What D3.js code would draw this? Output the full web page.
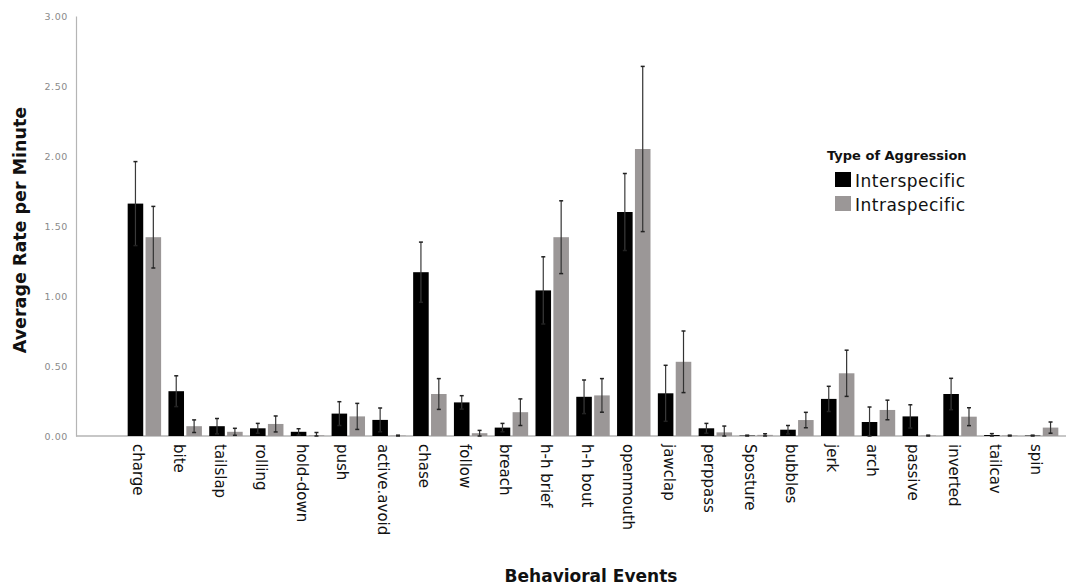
<!DOCTYPE html>
<html>
<head>
<meta charset="utf-8">
<script src="https://cdn.jsdelivr.net/npm/d3@7"></script>
<style>
  body { margin: 0; background: #fff; }
  text { font-family: "DejaVu Sans", sans-serif; }
</style>
</head>
<body>
<div id="my_dataviz"></div>
<script>
// chart values
const categories = ["charge", "bite", "tailslap", "rolling", "hold-down", "push", "active.avoid",
    "chase", "follow", "breach", "h-h brief", "h-h bout", "openmouth", "jawclap", "perppass",
    "Sposture", "bubbles", "jerk", "arch", "passive", "inverted", "tailcav", "spin"];
const groups = ["Interspecific", "Intraspecific"];
const interMean = [1.66, 0.32, 0.07, 0.055, 0.03, 0.16, 0.115, 1.17, 0.24, 0.06, 1.04, 0.28, 1.60,
    0.305, 0.055, 0.003, 0.045, 0.265, 0.10, 0.14, 0.30, 0.007, 0.003];
const interErr = [0.30, 0.11, 0.055, 0.035, 0.022, 0.085, 0.085, 0.215, 0.048, 0.03, 0.24, 0.12, 0.275,
    0.20, 0.035, 0.003, 0.03, 0.09, 0.107, 0.083, 0.112, 0.01, 0.003];
const intraMean = [1.42, 0.07, 0.03, 0.086, 0.005, 0.14, 0.003, 0.30, 0.02, 0.17, 1.42, 0.29, 2.05,
    0.53, 0.026, 0.008, 0.114, 0.448, 0.186, 0.003, 0.138, 0.003, 0.06];
const intraErr = [0.22, 0.045, 0.025, 0.057, 0.02, 0.093, 0.003, 0.11, 0.02, 0.095, 0.26, 0.12, 0.59,
    0.22, 0.045, 0.008, 0.055, 0.165, 0.07, 0.003, 0.064, 0.003, 0.04];
const yTicks = [0, 0.5, 1, 1.5, 2, 2.5, 3];
const colors = ["#000000", "#9b9797"];

// set the dimensions and margins of the graph
const W = 1069, H = 587;
const margin = {top: 16, right: 3, bottom: 151, left: 76};
const bandLeft = 124, bandRight = 1062;

const data = categories.map((c, i) => ({
    name: c,
    values: [
        {group: groups[0], mean: interMean[i], err: interErr[i]},
        {group: groups[1], mean: intraMean[i], err: intraErr[i]}
    ]
}));

const svg = d3.select("#my_dataviz")
    .append("svg")
        .attr("width", W)
        .attr("height", H);

const y = d3.scaleLinear()
    .domain([0, 3])
    .range([H - margin.bottom, margin.top]);

const x0 = d3.scaleBand()
    .domain(categories)
    .range([bandLeft, bandRight])
    .paddingInner(0.18)
    .paddingOuter(0.09);

const x1 = d3.scaleBand()
    .domain(groups)
    .range([0, x0.bandwidth()])
    .paddingInner(0.13);

// Y axis
const yAxis = svg.append("g")
    .attr("transform", `translate(${margin.left}, 0)`)
    .call(d3.axisLeft(y).tickValues(yTicks).tickFormat(d3.format(".2f")).tickSize(0).tickPadding(8));
yAxis.select(".domain").attr("stroke", "#b5b5b5").attr("stroke-width", 1.2);
yAxis.selectAll("text")
    .style("font-size", "9.5px")
    .style("letter-spacing", "0.6px")
    .attr("fill", "#8a8a8a");

// baseline
svg.append("line")
    .attr("x1", margin.left)
    .attr("x2", W - margin.right)
    .attr("y1", y(0))
    .attr("y2", y(0))
    .attr("stroke", "#b5b5b5")
    .attr("stroke-width", 1.5);

// bars
const g = svg.selectAll(".grp")
    .data(data)
    .join("g")
    .attr("class", "grp")
    .attr("transform", d => `translate(${x0(d.name)}, 0)`);

g.selectAll("rect")
    .data(d => d.values)
    .join("rect")
    .attr("x", d => x1(d.group))
    .attr("width", x1.bandwidth())
    .attr("y", d => y(d.mean))
    .attr("height", d => y(0) - y(d.mean))
    .attr("fill", (d, i) => colors[i]);

// error bars
const eb = g.selectAll(".err")
    .data(d => d.values)
    .join("g")
    .attr("class", "err")
    .attr("transform", d => `translate(${x1(d.group) + x1.bandwidth() / 2}, 0)`);

eb.append("line")
    .attr("y1", d => y(Math.max(0, d.mean - d.err)))
    .attr("y2", d => y(d.mean + d.err))
    .attr("stroke", (d, i) => i === 0 ? "#3a3a3a" : "#333")
    .attr("stroke-width", 1.2);

eb.selectAll(".cap")
    .data(d => [Math.max(0, d.mean - d.err), d.mean + d.err])
    .join("line")
    .attr("class", "cap")
    .attr("x1", -2)
    .attr("x2", 2)
    .attr("y1", v => y(v))
    .attr("y2", v => y(v))
    .attr("stroke", "#222")
    .attr("stroke-width", 1.5);

// x labels
svg.selectAll(".xlab")
    .data(categories)
    .join("text")
    .attr("class", "xlab")
    .attr("transform", d => `translate(${x0(d) + x0.bandwidth() / 2 - 6}, ${y(0) + 8}) rotate(90)`)
    .attr("dominant-baseline", "central")
    .style("font-size", "15px")
    .attr("fill", "#111")
    .text(d => d);

// axis titles
svg.append("text")
    .attr("transform", `translate(26, ${(y(0) + y(3)) / 2 + 4}) rotate(-90)`)
    .attr("text-anchor", "middle")
    .style("font-size", "17.5px")
    .style("font-weight", "bold")
    .attr("fill", "#111")
    .text("Average Rate per Minute");

svg.append("text")
    .attr("x", 591)
    .attr("y", 582)
    .attr("text-anchor", "middle")
    .style("font-size", "17px")
    .style("font-weight", "bold")
    .attr("fill", "#111")
    .text("Behavioral Events");

// legend
const legend = svg.append("g").attr("transform", "translate(827, 0)");
legend.append("text")
    .attr("x", 0)
    .attr("y", 160)
    .style("font-size", "13px")
    .style("font-weight", "bold")
    .attr("fill", "#111")
    .text("Type of Aggression");

const items = legend.selectAll(".item")
    .data(groups)
    .join("g")
    .attr("class", "item")
    .attr("transform", (d, i) => `translate(8, ${172 + i * 24})`);
items.append("rect")
    .attr("width", 16)
    .attr("height", 15)
    .attr("fill", (d, i) => colors[i]);
items.append("text")
    .attr("x", 20)
    .attr("y", 15)
    .style("font-size", "17px")
    .style("letter-spacing", "0.5px")
    .attr("fill", "#111")
    .text(d => d);
</script>
</body>
</html>
